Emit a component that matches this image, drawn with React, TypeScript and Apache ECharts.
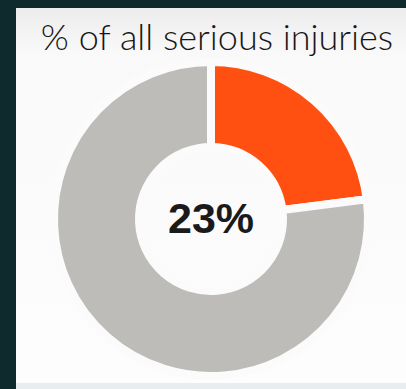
import React, { useEffect, useRef } from "react";
import * as echarts from "echarts";

const categories = ["Share", "Rest"];
const values = [23, 77];
const colors = ["#FF5012", "#BEBCB8"];
const titleText = "% of all serious injuries";
const centerText = "23%";

export default function App() {
  const ref = useRef<HTMLDivElement>(null);
  useEffect(() => {
    document.body.style.margin = "0";
    const chart = echarts.init(ref.current!, null, { renderer: "svg" });
    chart.setOption({
      animation: false,
      backgroundColor: "#0f2a2c",
      graphic: [
        {
          type: "rect",
          z: -10,
          shape: { x: 16, y: 8, width: 390, height: 375 },
          style: {
            fill: new echarts.graphic.LinearGradient(0, 0, 0, 1, [
              { offset: 0, color: "#ececec" },
              { offset: 0.12, color: "#f9f9f9" },
              { offset: 1, color: "#fdfdfd" },
            ]),
          },
        },
        {
          type: "rect",
          z: -10,
          shape: { x: 16, y: 383, width: 390, height: 6 },
          style: { fill: "#e8eef0" },
        },
        {
          type: "text",
          x: 211,
          y: 218,
          z: 100,
          style: {
            text: centerText,
            fontSize: 43,
            fontWeight: "bold",
            fontFamily: "Liberation Sans, Arial, sans-serif",
            fill: "#1a1a1a",
            align: "center",
            verticalAlign: "middle",
          },
        },
      ],
      title: {
        text: titleText,
        left: 212,
        textAlign: "center",
        top: 13,
        textStyle: {
          fontSize: 36,
          fontWeight: 300,
          fontFamily: "Lato, 'Noto Sans', sans-serif",
          color: "#161616",
        },
      },
      series: [
        {
          type: "pie",
          center: [211, 219],
          radius: [72, 157],
          startAngle: 90,
          clockwise: true,
          label: { show: false },
          labelLine: { show: false },
          silent: true,
          itemStyle: { borderColor: "#fbfbfb", borderWidth: 8 },
          data: categories.map((c, i) => ({
            name: c,
            value: values[i],
            itemStyle: { color: colors[i] },
          })),
        },
      ],
    });
    return () => chart.dispose();
  }, []);
  return <div ref={ref} style={{ position: "absolute", left: 0, top: 0, width: 406, height: 389 }} />;
}
